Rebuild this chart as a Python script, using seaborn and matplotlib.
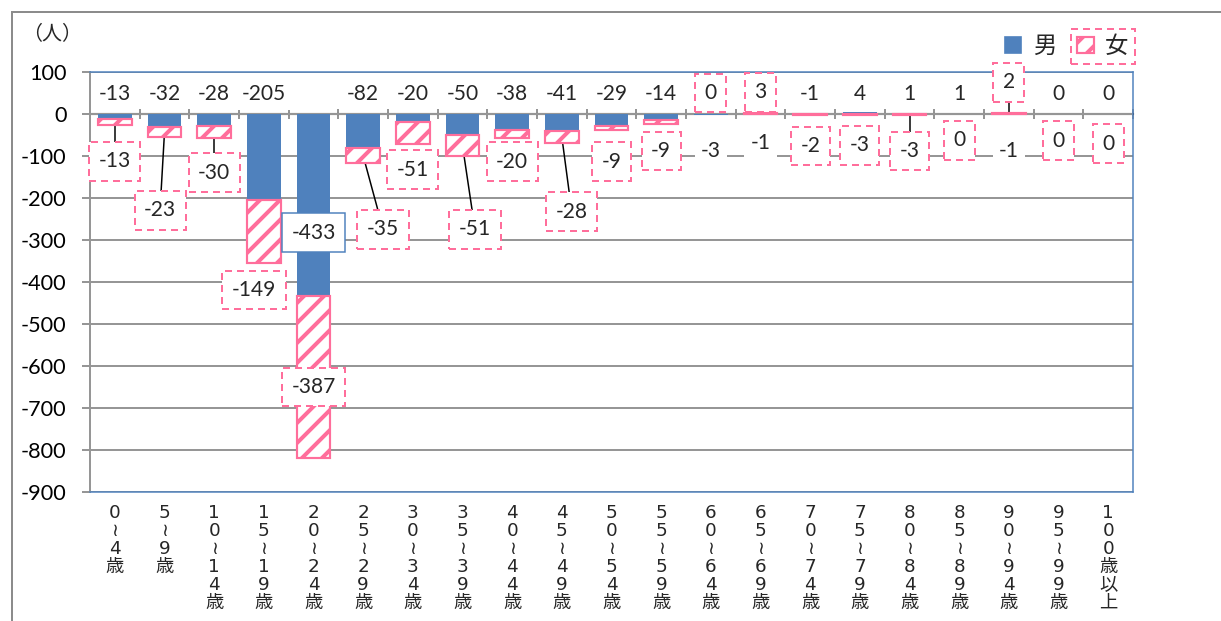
import numpy as np
import pandas as pd
import matplotlib.pyplot as plt
import matplotlib.patches as mpatches
import seaborn as sns

# 年齢階級別 男女 人数（増減）
ages = ["0~4歳", "5~9歳", "10~14歳", "15~19歳", "20~24歳", "25~29歳", "30~34歳",
        "35~39歳", "40~44歳", "45~49歳", "50~54歳", "55~59歳", "60~64歳", "65~69歳",
        "70~74歳", "75~79歳", "80~84歳", "85~89歳", "90~94歳", "95~99歳", "100歳以上"]
male = [-13, -32, -28, -205, -433, -82, -20, -50, -38, -41, -29, -14,
        -3, -1, -1, 4, 1, 1, -1, 0, 0]
female = [-13, -23, -30, -149, -387, -35, -51, -51, -20, -28, -9, -9,
          0, 3, -2, -3, -3, 0, 2, 0, 0]
yticks = list(range(-900, 101, 100))

# where the data labels sit
male_lab_y = [48] * 21
male_lab_y[4] = -283
male_lab_y[12] = -88
male_lab_y[13] = -69
male_lab_y[18] = -88
female_lab_y = [-112, -229, -140, -419, -650, -274, -133, -274, -114, -233, -114, -88,
                50, 52, -76, -74, -88, -62, 76, -64, -71]
female_lab_dx = [0, -0.09, 0, -0.2, 0, 0.4, 0, 0.25, 0, 0.2, 0, 0,
                 0, 0, 0, 0, 0, 0, 0, 0, 0]
leader = [0, 1, 2, 5, 7, 9, 16, 18]

BLUE = "#4F81BD"
PINK = "#FF6E9B"
GRID = "#969696"
DPI = 120

sns.set_theme(style="white")
plt.rcParams["font.family"] = ["Lato", "Noto Sans CJK JP", "DejaVu Sans"]
plt.rcParams["axes.unicode_minus"] = False
plt.rcParams["hatch.linewidth"] = 2.4
plt.rcParams["hatch.color"] = PINK
CJK = ["Noto Sans CJK JP", "DejaVu Sans"]

df = pd.DataFrame({"age": ages, "男": male, "女": female})
m = np.array(male)
f = np.array(female)
fem_bottom = np.where(f < 0, np.minimum(m, 0), np.maximum(m, 0))

fig, ax = plt.subplots(figsize=(1221 / DPI, 621 / DPI), dpi=DPI)
fig.subplots_adjust(left=0.0737, right=0.928, top=0.884, bottom=0.2077)

sns.barplot(data=df, x="age", y="男", color=BLUE, saturation=1, width=0.68,
            linewidth=0, zorder=2, ax=ax)
sns.barplot(data=df, x="age", y="女", bottom=fem_bottom, color="white", saturation=1,
            width=0.68, edgecolor=PINK, linewidth=1.3, hatch="//", zorder=2, ax=ax)
for p in ax.patches:
    if p.get_height() == 0:
        p.set_linewidth(0)

ax.set_ylim(-900, 100)
ax.set_xlim(-0.5, len(ages) - 0.5)
ax.set_xlabel("")
ax.set_ylabel("")
ax.set_yticks(yticks)
ax.yaxis.grid(True, color=GRID, lw=1.2)
ax.set_axisbelow(True)
ax.tick_params(axis="y", left=True, direction="out", length=5, width=1.2, color=GRID,
               pad=9, labelsize=13, labelcolor="black")

vertical = ["\n".join("≀" if ch == "~" else ch for ch in a) for a in ages]
ax.set_xticks(range(len(ages)))
ax.tick_params(axis="x", bottom=False, length=0, pad=7, labelsize=11)
ax.set_xticklabels(vertical, va="top", linespacing=1.0,
                   fontfamily=["DejaVu Sans", "Noto Sans CJK JP"], fontsize=11)

for s in ["top", "right", "bottom"]:
    ax.spines[s].set_color(BLUE)
    ax.spines[s].set_linewidth(0.9)
ax.spines["left"].set_color(GRID)
ax.spines["left"].set_linewidth(1.2)

# horizontal axis crossing at 0
sec = ax.secondary_xaxis(0.9)
sec.set_xticks(np.arange(len(ages) + 1) - 0.5)
sec.set_xticklabels([])
sec.tick_params(axis="x", bottom=True, direction="out", length=3, width=1.2, color=GRID)
sec.spines["bottom"].set_color(GRID)
sec.spines["bottom"].set_linewidth(1.2)

# data labels
for i in range(len(ages)):
    box = dict(boxstyle="square,pad=0.3", fc="white", ec="none")
    if i == 4:
        box = dict(boxstyle="square,pad=0.45", fc="white", ec=BLUE, lw=0.9)
    ax.text(i, male_lab_y[i], str(male[i]), ha="center", va="center", fontsize=12.6,
            bbox=box, zorder=4, clip_on=False)

    fx = i + female_lab_dx[i]
    ax.text(fx, female_lab_y[i], str(female[i]), ha="center", va="center", fontsize=12.6,
            bbox=dict(boxstyle="square,pad=0.45", fc="white", ec=PINK, lw=1.2,
                      ls=(0, (3.5, 2.5))),
            zorder=5, clip_on=False)
    if i in leader:
        ax.plot([fx, i], [female_lab_y[i], fem_bottom[i] + female[i] / 2],
                color="black", lw=0.9, zorder=1.5)

# legend
handles = [mpatches.Patch(fc=BLUE, ec=BLUE),
           mpatches.Patch(fc="white", ec=PINK, hatch="//", lw=1.3)]
leg = fig.legend(handles, ["男", "女"], loc="upper right", ncol=2, frameon=False,
                 bbox_to_anchor=(1138 / 1221, 1 - 26 / 621), prop={"family": CJK, "size": 14},
                 handlelength=0.7, handleheight=0.7, handletextpad=0.5, columnspacing=0.9,
                 borderaxespad=0)
fig.canvas.draw()
bb = leg.legend_handles[1].get_window_extent().union(
    [leg.legend_handles[1].get_window_extent(), leg.get_texts()[1].get_window_extent()])
inv = fig.transFigure.inverted()
(x0, y0), (x1, y1) = inv.transform([[bb.x0 - 6, bb.y0 - 6], [bb.x1 + 6, bb.y1 + 6]])
fig.add_artist(mpatches.Rectangle((x0, y0), x1 - x0, y1 - y0, transform=fig.transFigure,
                                  fill=False, ec=PINK, lw=1.2, ls=(0, (3.5, 2.5))))

fig.text(22 / 1221, 1 - 35 / 621, "（人）", fontsize=12, va="center", family=CJK)

# chart area frame
fig.add_artist(mpatches.Rectangle((12 / 1221, -0.5), 2, 1.5 - 12 / 621,
                                  transform=fig.transFigure, fill=False,
                                  ec="#8C8C8C", lw=1.2))

fig.savefig("out.png", dpi=DPI)
